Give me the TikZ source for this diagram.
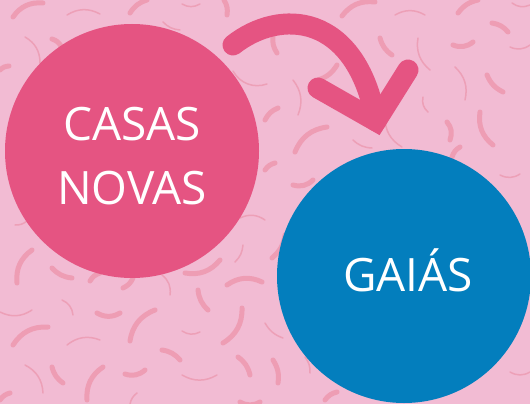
\documentclass[tikz,border=0pt]{standalone}
\usepackage{fontspec}
\setmainfont{Open Sans}
\usepackage{tikz}
\usetikzlibrary{positioning}
\definecolor{bgpink}{HTML}{F2BBD3}
\definecolor{rosa}{HTML}{E55482}
\definecolor{azul}{HTML}{037EBD}
\definecolor{confa}{HTML}{EE9DB4}
\definecolor{confb}{HTML}{EDA0B7}

\begin{document}
\begin{tikzpicture}[x=1pt,y=-1pt]
\tikzstyle{disc}=[circle,inner sep=0pt,outer sep=0pt,minimum size=254pt]
\tikzstyle{lbl}=[text=white,align=center,inner sep=0pt,
font=\fontsize{46}{64}\selectfont,text height=33pt,text depth=0pt]
\tikzstyle{thickbit}=[draw=confa,line width=5pt,line cap=round]
\tikzstyle{thinbit}=[draw=confb,line width=1.5pt,line cap=round]
\tikzstyle{bigarrow}=[draw=rosa,line width=21pt,line cap=round]

\useasboundingbox (0,0) rectangle (530,404);
\fill[bgpink] (0,0) rectangle (530,404);

\foreach \xa/\ya/\xb/\yb/\bb in {13/17/43/3/30, 130/13/147/0/20, 224/0/227/15/20,
52/39/61/46/20, 0/70/9/66/20, 342/16/375/2/30, 458/13/478/0/20, 492/23/508/32/20,
380/38/392/55/-20, 453/45/473/42/-30, 487/75/503/92/-20, 318/80/337/65/-20,
273/36/277/53/-20, 265/120/278/108/20, 295/152/327/127/30, 447/122/450/140/30,
480/112/493/145/-30, 452/157/460/147/20, 265/170/275/163/20, 293/185/313/180/-30,
17/283/32/250/30, 52/268/72/278/-20, 90/281/100/273/20, 123/288/133/278/-20,
185/273/220/260/-30, 227/285/262/282/30, 97/313/120/313/-30, 130/341/155/310/30,
198/290/208/310/-20, 223/343/242/308/-30, 13/345/48/327/30, 162/350/180/360/20,
52/367/63/383/-20, 87/400/103/367/30, 125/374/145/370/-30, 238/357/250/375/20,
0/400/10/393/20, 272/258/285/235/-20, 273/360/278/383/20, 325/400/337/392/20,
240/402/260/402/-30}
  \draw[thickbit] (\xa,\ya) to[bend left=\bb] (\xb,\yb);

\foreach \xa/\ya/\xb/\yb/\bb in {67/15/100/14/30, 182/4/200/4/-30, 25/37/40/63/30,
163/22/180/30/-20, 233/71/267/84/-40, 395/15/425/15/30, 512/3/530/5/-30,
510/47/530/45/-30, 418/38/430/70/-30, 455/67/465/100/30, 293/80/298/115/30,
423/97/428/112/-30, 385/117/402/147/-30, 353/140/372/148/-20, 500/175/520/174/-30,
15/225/27/221/-20, 162/275/170/295/30, 235/262/243/245/-20, 240/218/265/220/30,
0/312/32/310/-30, 62/300/73/315/30, 182/331/200/332/-30, 67/345/100/340/30,
25/365/43/393/30, 182/375/217/375/-30, 130/404/137/393/20, 265/323/283/338/-20,
305/357/310/373/20, 510/372/530/372/-30}
  \draw[thinbit] (\xa,\ya) to[bend left=\bb] (\xb,\yb);

\node[disc,fill=rosa] at (132,151) (casas) {};
\node[disc,fill=azul] at (404,276) (gaias) {};
\node[lbl,text height=97pt] at (132,155.5) (casast) {CASAS\\NOVAS};
\node[lbl] at (408,275) (gaiast) {GAIÁS};

\coordinate (astart) at (233,45);
\coordinate (atip) at (376,121);
\coordinate (aleft) at (318,88);
\coordinate (aright) at (408,70);
\draw[bigarrow] (astart) .. controls (280,8) and (356,12) .. (atip);
\draw[bigarrow,line join=miter] (aleft) -- (atip) -- (aright);

\end{tikzpicture}
\end{document}
